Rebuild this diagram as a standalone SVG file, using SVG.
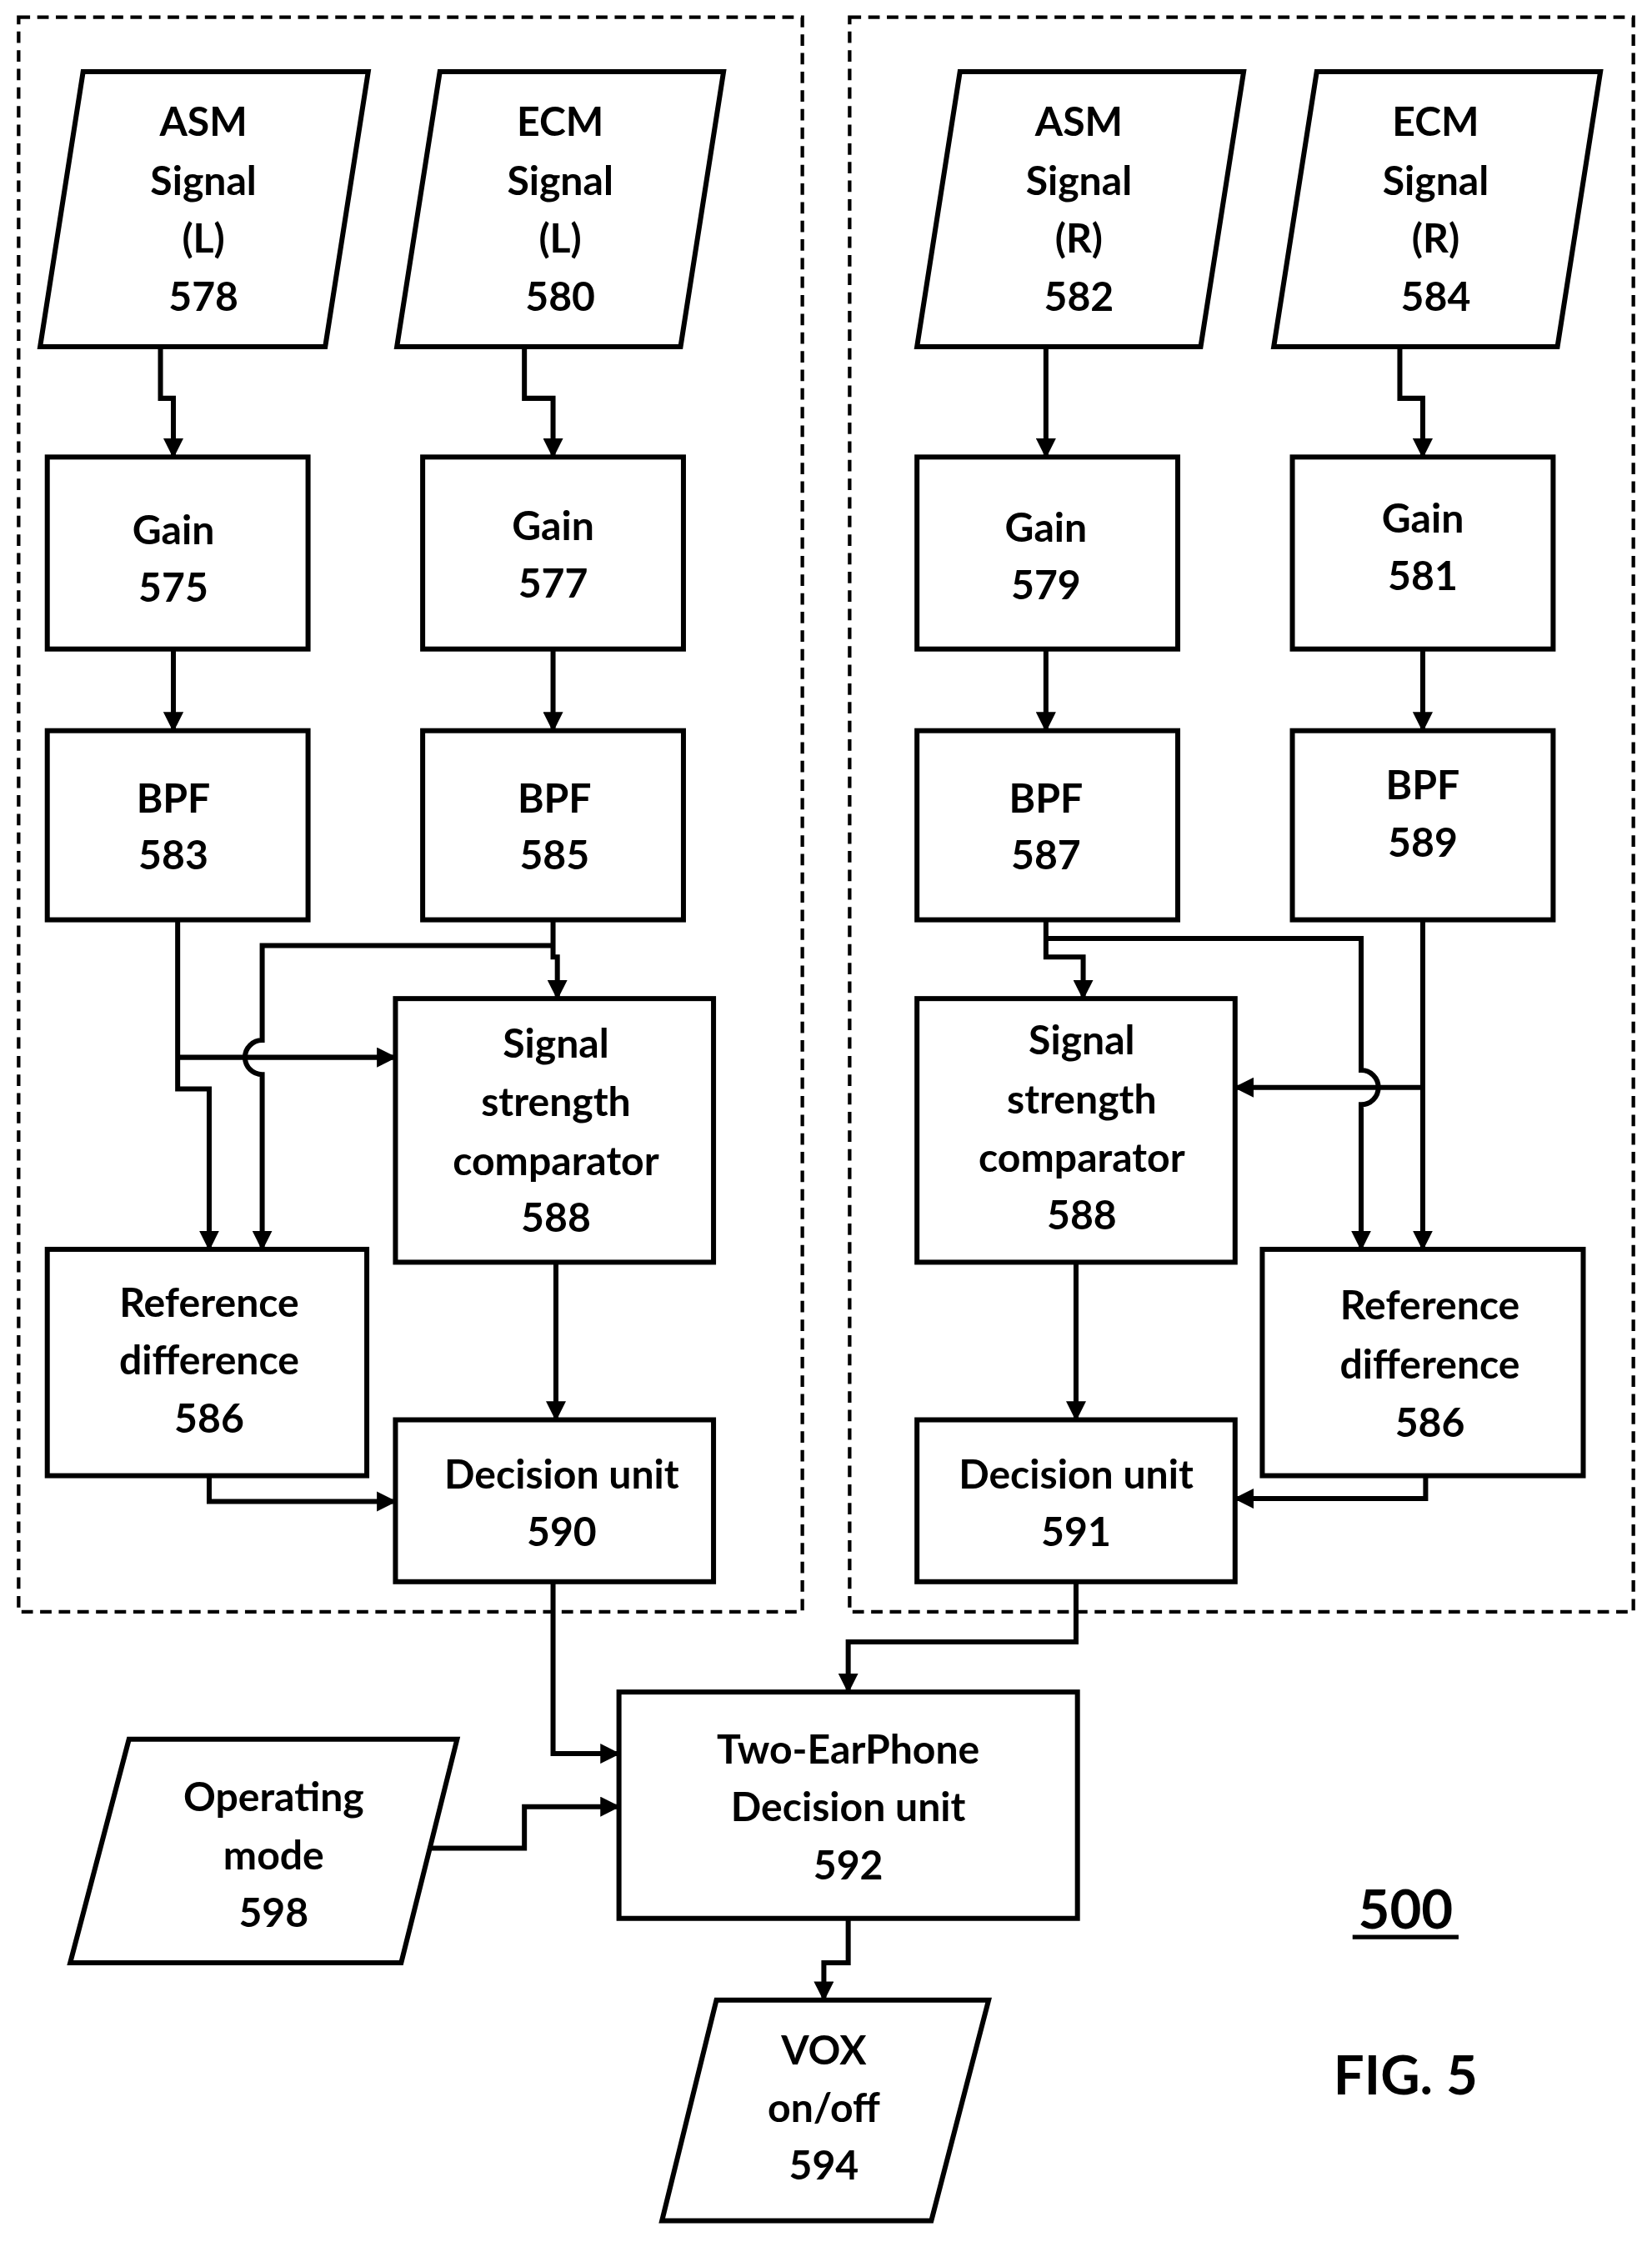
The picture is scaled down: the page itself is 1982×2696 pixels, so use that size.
<svg xmlns="http://www.w3.org/2000/svg" width="1982" height="2696" viewBox="0 0 1982 2696">
<style>
.b{fill:#fff;stroke:#000;stroke-width:3.5}
.d{fill:none;stroke:#000;stroke-width:2.5;stroke-dasharray:8,5}
.c{fill:none;stroke:#000;stroke-width:3.5}
text{font-family:Lato,"Open Sans","Liberation Sans",sans-serif;font-weight:bold;font-size:28px;text-anchor:middle;fill:#000}
</style>
<defs><marker id="a" markerUnits="userSpaceOnUse" markerWidth="14" markerHeight="14" refX="13" refY="7" orient="auto"><path d="M0,0 L14,7 L0,14 z" fill="#000"/></marker></defs>
<rect width="1982" height="2696" fill="#fff"/>
<g transform="scale(1.719)">
<rect class="d" x="13" y="12" width="547" height="1113"/>
<rect class="d" x="593" y="12" width="547" height="1113"/>
<g id="asmL"><polygon class="b" points="58,50 257,50 227,242 28,242"/><text x="142" y="95">ASM</text><text x="142" y="136">Signal</text><text x="142" y="176">(L)</text><text x="142" y="217">578</text></g>
<g id="ecmL"><polygon class="b" points="307,50 505,50 475,242 277,242"/><text x="391" y="95">ECM</text><text x="391" y="136">Signal</text><text x="391" y="176">(L)</text><text x="391" y="217">580</text></g>
<g id="asmR"><polygon class="b" points="670,50 868,50 838,242 640,242"/><text x="753" y="95">ASM</text><text x="753" y="136">Signal</text><text x="753" y="176">(R)</text><text x="753" y="217">582</text></g>
<g id="ecmR"><polygon class="b" points="919,50 1117,50 1087,242 889,242"/><text x="1002" y="95">ECM</text><text x="1002" y="136">Signal</text><text x="1002" y="176">(R)</text><text x="1002" y="217">584</text></g>
<g id="g575"><rect class="b" x="33" y="319" width="182" height="134"/><text x="121" y="380">Gain</text><text x="121" y="420">575</text></g>
<g id="g577"><rect class="b" x="295" y="319" width="182" height="134"/><text x="386" y="377">Gain</text><text x="386" y="417">577</text></g>
<g id="g579"><rect class="b" x="640" y="319" width="182" height="134"/><text x="730" y="378">Gain</text><text x="730" y="418">579</text></g>
<g id="g581"><rect class="b" x="902" y="319" width="182" height="134"/><text x="993" y="372">Gain</text><text x="993" y="412">581</text></g>
<g id="b583"><rect class="b" x="33" y="510" width="182" height="132"/><text x="121" y="567">BPF</text><text x="121" y="607">583</text></g>
<g id="b585"><rect class="b" x="295" y="510" width="182" height="132"/><text x="387" y="567">BPF</text><text x="387" y="607">585</text></g>
<g id="b587"><rect class="b" x="640" y="510" width="182" height="132"/><text x="730" y="567">BPF</text><text x="730" y="607">587</text></g>
<g id="b589"><rect class="b" x="902" y="510" width="182" height="132"/><text x="993" y="558">BPF</text><text x="993" y="598">589</text></g>
<g id="ssL"><rect class="b" x="276" y="697" width="222" height="184"/><text x="388" y="738">Signal</text><text x="388" y="779">strength</text><text x="388" y="820">comparator</text><text x="388" y="860">588</text></g>
<g id="ssR"><rect class="b" x="640" y="697" width="222" height="184"/><text x="755" y="736">Signal</text><text x="755" y="777">strength</text><text x="755" y="818">comparator</text><text x="755" y="858">588</text></g>
<g id="rdL"><rect class="b" x="33" y="872" width="223" height="158"/><text x="146" y="919">Reference</text><text x="146" y="959">difference</text><text x="146" y="1000">586</text></g>
<g id="rdR"><rect class="b" x="881" y="872" width="224" height="158"/><text x="998" y="921">Reference</text><text x="998" y="962">difference</text><text x="998" y="1003">586</text></g>
<g id="du590"><rect class="b" x="276" y="991" width="222" height="113"/><text x="392" y="1039">Decision unit</text><text x="392" y="1079">590</text></g>
<g id="du591"><rect class="b" x="640" y="991" width="222" height="113"/><text x="751" y="1039">Decision unit</text><text x="751" y="1079">591</text></g>
<g id="two592"><rect class="b" x="432" y="1181" width="320" height="158"/><text x="592" y="1231">Two-EarPhone</text><text x="592" y="1271">Decision unit</text><text x="592" y="1312">592</text></g>
<g id="op598"><polygon class="b" points="90,1214 319,1214 280,1370 49,1370"/><text x="191" y="1264">Operating</text><text x="191" y="1305">mode</text><text x="191" y="1345">598</text></g>
<g id="vox594"><polygon class="b" points="500,1396 690,1396 650,1550 462,1550"/><text x="575" y="1441">VOX</text><text x="575" y="1481">on/off</text><text x="575" y="1521">594</text></g>
<g id="labels"><text x="981" y="1346" style="font-size:38px">500</text><line x1="944" y1="1352" x2="1018" y2="1352" stroke="#000" stroke-width="3"/><text x="981" y="1462" style="font-size:38px">FIG. 5</text></g>
<g id="connectors" class="c">
<path class="c" d="M112,242 V278 H121 V319" marker-end="url(#a)"/>
<path class="c" d="M366,242 V278 H386 V319" marker-end="url(#a)"/>
<path class="c" d="M730,242 V319" marker-end="url(#a)"/>
<path class="c" d="M977,242 V278 H993 V319" marker-end="url(#a)"/>
<path class="c" d="M121,453 V510" marker-end="url(#a)"/>
<path class="c" d="M386,453 V510" marker-end="url(#a)"/>
<path class="c" d="M730,453 V510" marker-end="url(#a)"/>
<path class="c" d="M993,453 V510" marker-end="url(#a)"/>
<path class="c" d="M124,642 V760 H146 V872" marker-end="url(#a)"/>
<path class="c" d="M124,738 H276" marker-end="url(#a)"/>
<path class="c" d="M386,642 V668 H389 V697" marker-end="url(#a)"/>
<path class="c" d="M386,660 H183 V726 A12,12 0 0 0 183,750 V872" marker-end="url(#a)"/>
<path class="c" d="M730,642 V668 H756 V697" marker-end="url(#a)"/>
<path class="c" d="M730,655 H950 V747 A12,12 0 0 1 950,771 V872" marker-end="url(#a)"/>
<path class="c" d="M993,642 V872" marker-end="url(#a)"/>
<path class="c" d="M993,759 H862" marker-end="url(#a)"/>
<path class="c" d="M388,881 V991" marker-end="url(#a)"/>
<path class="c" d="M751,881 V991" marker-end="url(#a)"/>
<path class="c" d="M146,1030 V1048 H276" marker-end="url(#a)"/>
<path class="c" d="M995,1030 V1046 H862" marker-end="url(#a)"/>
<path class="c" d="M386,1104 V1224 H432" marker-end="url(#a)"/>
<path class="c" d="M751,1104 V1146 H592 V1181" marker-end="url(#a)"/>
<path class="c" d="M300,1290 H366 V1261 H432" marker-end="url(#a)"/>
<path class="c" d="M592,1339 V1370 H575 V1396" marker-end="url(#a)"/>
</g>
</g>
</svg>
